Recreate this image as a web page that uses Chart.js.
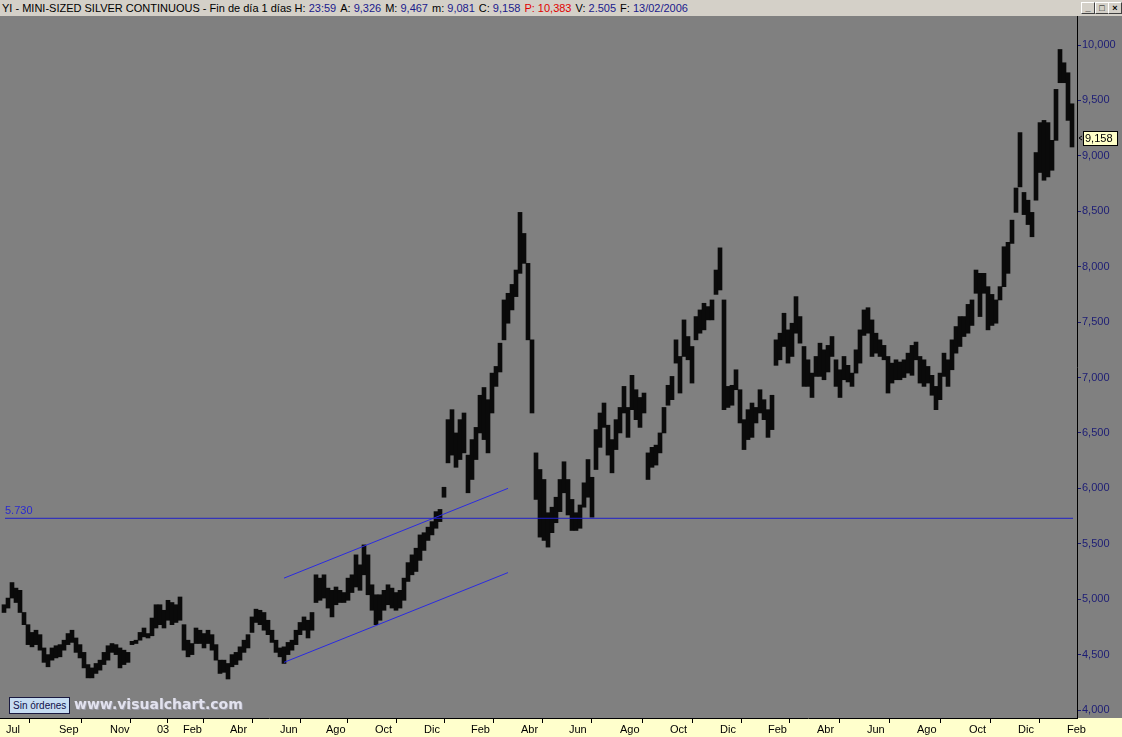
<!DOCTYPE html>
<html>
<head>
<meta charset="utf-8">
<script src="https://cdn.jsdelivr.net/npm/chart.js@4.4.1/dist/chart.umd.min.js"></script>
<style>
body { margin: 0; width: 1122px; height: 737px; overflow: hidden; background: #808080; font-family: "Liberation Sans", Arial, sans-serif; }
#bar { position: absolute; left: 0; top: 0; width: 1122px; height: 16px; background: #d4d0c8; font-size: 11px; line-height: 16px; white-space: nowrap; color: #000; }
#bar .t { position: absolute; left: 2px; top: 0; }
#bar .v { color: #1a1a8c; }
#bar .p { color: #e00000; }
#bar .g { margin-left: 4px; }
.btn { position: absolute; top: 2px; width: 12px; height: 10px; background: #d4d0c8; border: 1px solid; border-color: #fff #404040 #404040 #fff; font-size: 9px; line-height: 10px; text-align: center; font-weight: bold; }
#wrap { position: absolute; left: 0; top: 16px; width: 1122px; height: 721px; }
#orders { position: absolute; left: 9px; top: 697px; height: 15px; padding: 0 3px; background: #c6dcf2; border: 1px solid #1a1a40; font-size: 10px; line-height: 15px; color: #10104a; }
#wm { position: absolute; left: 74px; top: 696px; font-family: "DejaVu Sans", Verdana, sans-serif; font-weight: bold; font-size: 14px; color: #e2e2ee; text-shadow: 1px 1px 0 #9a9aa6; }
</style>
</head>
<body>
<div id="bar">
  <div class="t">YI - MINI-SIZED SILVER CONTINUOUS - Fin de día 1 días  H: <span class="v">23:59</span><span class="g">A: </span><span class="v">9,326</span><span class="g">M: </span><span class="v">9,467</span><span class="g">m: </span><span class="v">9,081</span><span class="g">C: </span><span class="v">9,158</span><span class="g p">P: 10,383</span><span class="g">V: </span><span class="v">2.505</span><span class="g">F: </span><span class="v">13/02/2006</span></div>
  <div class="btn" style="left:1081px">_</div>
  <div class="btn" style="left:1095px">□</div>
  <div class="btn" style="left:1108px">×</div>
</div>
<div id="wrap"><canvas id="c" width="1122" height="721"></canvas></div>
<div id="orders">Sin órdenes</div>
<div id="wm">www.visualchart.com</div>
<script>
// month markers on the bar index axis
const tickLabels = ['Jul', 'Sep', 'Nov', '03', 'Feb', 'Abr', 'Jun', 'Ago', 'Oct', 'Dic', 'Feb', 'Abr', 'Jun', 'Ago', 'Oct', 'Dic', 'Feb', 'Abr', 'Jun', 'Ago', 'Oct', 'Dic', 'Feb'];
const tickBars = [-0.25, 13, 25.75, 37.5, 44, 55.75, 68.25, 79.75, 92, 104.25, 116, 128.5, 140.5, 153.25, 165.75, 178.25, 190.25, 202.5, 215, 227.5, 240.5, 252.75, 265];
const yTicks = [4000, 4500, 5000, 5500, 6000, 6500, 7000, 7500, 8000, 8500, 9000, 9500, 10000];

const highs = [
  4950, 5010, 5150, 5100, 5080, 4880, 4770, 4700, 4720, 4680,
  4560, 4500, 4560, 4580, 4590, 4630, 4690, 4720, 4650, 4590,
  4520, 4410, 4380, 4420, 4450, 4520, 4580, 4600, 4590, 4560,
  4540, 4520, 4620, 4630, 4700, 4740, 4690, 4830, 4950, 4950,
  4900, 4990, 4970, 4950, 5020, 4770, 4630, 4600, 4740, 4720,
  4690, 4720, 4680, 4590, 4450, 4450, 4420, 4500, 4520, 4570,
  4630, 4680, 4840, 4910, 4900, 4880, 4810, 4720, 4630, 4560,
  4570, 4610, 4630, 4720, 4790, 4840, 4810, 4880, 5220, 5190,
  5220, 5100, 5080, 5110, 5080, 5060, 5190, 5220, 5400, 5310,
  5490, 5400, 5130, 5040, 5040, 5080, 5130, 5100, 5060, 5080,
  5190, 5330, 5400, 5460, 5580, 5600, 5650, 5700, 5790, 5810,
  6010, 6620, 6710, 6500, 6620, 6680, 6300, 6440, 6550, 6840,
  6910, 6800, 7040, 7100, 7310, 7700, 7760, 7840, 7970, 8490,
  8300, 8030, 7340, 6320, 6170, 6080, 5780, 5830, 5920, 6080,
  6240, 6080, 5900, 5780, 5850, 6050, 6260, 6100, 6530, 6680,
  6770, 6570, 6440, 6620, 6730, 6920, 6730, 7020, 6890, 6820,
  6860, 6320, 6370, 6390, 6500, 6730, 6930, 7010, 7340, 7190,
  7520, 7370, 7280, 7550, 7610, 7670, 7640, 7700, 7970, 8170,
  7700, 6920, 6930, 7070, 6890, 6620, 6710, 6770, 6730, 6890,
  6800, 6710, 6840, 7340, 7400, 7580, 7430, 7490, 7730, 7550,
  7280, 7160, 7040, 7190, 7310, 7250, 7290, 7370, 7160, 7070,
  7190, 7110, 7040, 7250, 7430, 7610, 7630, 7520, 7400, 7340,
  7290, 7190, 7130, 7160, 7140, 7160, 7220, 7290, 7320, 7190,
  7160, 7100, 7020, 6920, 7040, 7220, 7160, 7340, 7460, 7550,
  7550, 7660, 7700, 7970, 7940, 7940, 7820, 7750, 7700, 7820,
  8180, 8220, 8420, 8710, 9210, 8670, 8600, 8490, 9030, 9300,
  9320, 9300, 9140, 9600, 9960, 9840, 9750, 9470
];
const lows = [
  4880, 4920, 5010, 4970, 4880, 4770, 4590, 4570, 4590, 4540,
  4430, 4390, 4450, 4470, 4480, 4540, 4590, 4610, 4520, 4470,
  4380, 4290, 4290, 4330, 4360, 4410, 4450, 4520, 4500, 4380,
  4410, 4430, 4590, 4600, 4630, 4660, 4650, 4670, 4740, 4770,
  4740, 4810, 4770, 4790, 4810, 4540, 4480, 4500, 4600, 4600,
  4560, 4600, 4540, 4450, 4330, 4340, 4280, 4390, 4410, 4450,
  4520, 4560, 4700, 4790, 4770, 4720, 4680, 4610, 4520, 4480,
  4420, 4500, 4540, 4590, 4680, 4720, 4650, 4720, 4970, 4990,
  5010, 4920, 4840, 4950, 4970, 4970, 4990, 5060, 5110, 5080,
  5220, 5040, 4900, 4770, 4810, 4900, 4950, 4920, 4900, 4920,
  4990, 5160, 5220, 5250, 5350, 5440, 5530, 5580, 5640, 5700,
  5920, 6230, 6300, 6190, 6260, 6320, 5960, 6080, 6260, 6500,
  6440, 6320, 6680, 6920, 7050, 7340, 7490, 7610, 7730, 7940,
  8030, 7340, 6680, 5900, 5560, 5530, 5470, 5600, 5690, 5790,
  5960, 5760, 5620, 5620, 5640, 5830, 5920, 5740, 6170, 6370,
  6550, 6300, 6140, 6350, 6500, 6680, 6460, 6710, 6620, 6550,
  6680, 6080, 6190, 6210, 6320, 6500, 6750, 6800, 7130, 6860,
  7190, 7160, 6950, 7340, 7400, 7430, 7520, 7520, 7750, 7790,
  6710, 6730, 6750, 6890, 6590, 6350, 6440, 6460, 6590, 6680,
  6620, 6460, 6530, 7110, 7160, 7280, 7130, 7190, 7400, 7310,
  6920, 6920, 6820, 7010, 7010, 6980, 7050, 7190, 6920, 6820,
  6980, 6960, 6920, 7040, 7130, 7380, 7400, 7190, 7220, 7190,
  7160, 6860, 6950, 6980, 6980, 7000, 7040, 7020, 7160, 6950,
  6920, 6950, 6840, 6710, 6800, 7010, 6920, 7070, 7220, 7280,
  7370, 7400, 7470, 7760, 7550, 7760, 7430, 7470, 7490, 7700,
  7820, 7940, 8210, 8490, 8720, 8470, 8380, 8270, 8600, 8850,
  8780, 8810, 8870, 9140, 9660, 9660, 9320, 9080
];

const lastClose = 9158;
const supportLevel = 5730;
const supportSpan = [0.25, 267.25];
const channelUpper = [{ x: 70, y: 5190 }, { x: 126, y: 6000 }];
const channelLower = [{ x: 70, y: 4430 }, { x: 126, y: 5240 }];

const FONT = '"Liberation Sans", Arial, sans-serif';

const backdrop = {
    id: 'backdrop',
    beforeDraw(chart) {
        const { ctx, chartArea, width, height } = chart;
        ctx.save();
        ctx.fillStyle = '#808080';
        ctx.fillRect(0, 0, width, height);
        ctx.fillStyle = '#ffffcc';
        ctx.fillRect(0, chartArea.bottom, width, height - chartArea.bottom);
        ctx.restore();
    },
    afterDraw(chart) {
        const { ctx, chartArea } = chart;
        const y = chart.scales.y;
        ctx.save();
        ctx.font = '11px ' + FONT;

        // label of the horizontal level
        const sy = y.getPixelForValue(supportLevel);
        ctx.fillStyle = '#2a2ad0';
        ctx.textBaseline = 'bottom';
        ctx.fillText(supportLevel.toLocaleString('de-DE'), 5, sy - 2);

        // last price box
        const py = Math.round(y.getPixelForValue(lastClose));
        const bx = chartArea.right + 6;
        ctx.fillStyle = '#ffffc8';
        ctx.fillRect(bx, py - 7, 35, 15);
        ctx.strokeStyle = '#000';
        ctx.lineWidth = 1;
        ctx.strokeRect(bx + 0.5, py - 6.5, 34, 14);
        ctx.fillStyle = '#000';
        ctx.textBaseline = 'middle';
        ctx.fillText(lastClose.toLocaleString('en-US'), bx + 2, py + 1);
        ctx.beginPath();
        ctx.moveTo(bx - 1, py - 2);
        ctx.lineTo(bx - 4, py);
        ctx.lineTo(bx - 1, py + 2);
        ctx.stroke();
        ctx.restore();
    }
};

new Chart(document.getElementById('c'), {
    type: 'bar',
    data: {
        datasets: [
            {
                type: 'line',
                data: [{ x: supportSpan[0], y: supportLevel }, { x: supportSpan[1], y: supportLevel }],
                borderColor: '#2020c8',
                borderWidth: 1,
                pointRadius: 0,
                order: 0
            },
            {
                type: 'line',
                data: channelUpper,
                borderColor: '#2a2ae0',
                borderWidth: 1,
                pointRadius: 0,
                order: 0
            },
            {
                type: 'line',
                data: channelLower,
                borderColor: '#2a2ae0',
                borderWidth: 1,
                pointRadius: 0,
                order: 0
            },
            {
                data: highs.map((h, i) => ({ x: i, y: [lows[i], h] })),
                backgroundColor: '#0a0a0a',
                barThickness: 4,
                grouped: false,
                order: 1
            }
        ]
    },
    plugins: [backdrop],
    options: {
        responsive: false,
        animation: false,
        events: [],
        layout: { padding: 0 },
        plugins: {
            legend: { display: false },
            tooltip: { enabled: false }
        },
        scales: {
            x: {
                type: 'linear',
                min: -1,
                max: 268.25,
                offset: false,
                afterBuildTicks(scale) {
                    scale.ticks = tickBars.map(v => ({ value: v }));
                },
                afterFit(scale) {
                    scale.height = 19;
                    scale.paddingLeft = 0;
                    scale.paddingRight = 0;
                },
                ticks: {
                    autoSkip: false,
                    maxRotation: 0,
                    align: 'start',
                    labelOffset: 3,
                    padding: 0,
                    color: '#000',
                    font: { family: FONT, size: 11 },
                    callback: (v, i) => tickLabels[i]
                },
                grid: { drawOnChartArea: false, tickLength: 5, color: '#000' },
                border: { display: true, color: '#000' }
            },
            y: {
                type: 'linear',
                position: 'right',
                min: 3928,
                max: 10262,
                afterBuildTicks(scale) {
                    scale.ticks = yTicks.map(v => ({ value: v }));
                },
                afterFit(scale) {
                    scale.width = 45;
                    scale.paddingTop = 0;
                    scale.paddingBottom = 0;
                },
                ticks: {
                    padding: 1,
                    color: '#1c1c74',
                    font: { family: FONT, size: 11 },
                    callback: v => v.toLocaleString('en-US')
                },
                grid: { drawOnChartArea: false, tickLength: 4, color: '#1c1c74' },
                border: { display: true, color: '#000' }
            }
        }
    }
});
</script>
</body>
</html>
